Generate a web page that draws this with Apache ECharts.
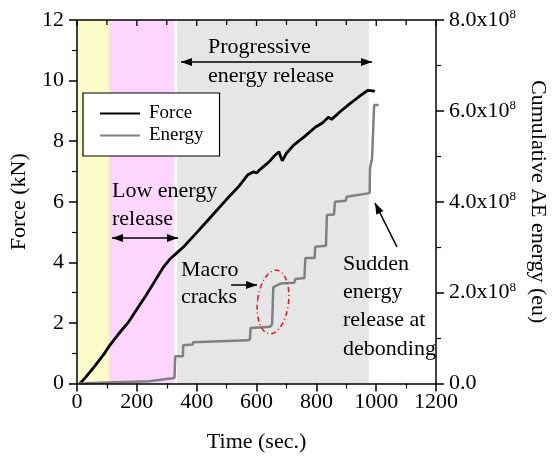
<!DOCTYPE html>
<html>
<head>
<meta charset="utf-8">
<script src="https://cdn.jsdelivr.net/npm/echarts@6/dist/echarts.min.js"></script>
<style>
  html, body { margin: 0; padding: 0; background: #fff; }
  #chart { width: 557px; height: 459px; }
</style>
</head>
<body>
<div id="chart"></div>
<script>
// 数据 (时间 s, 力 kN)
var forceTime = [10, 30, 60, 90, 110, 140, 170, 200, 230, 260, 290, 310, 330, 360, 400, 450, 500, 540, 570, 590, 600, 610, 640, 660, 675, 680, 686, 700, 724, 760, 796, 820, 840, 851, 880, 910, 940, 971, 977, 990, 995];
var forceKN = [0, 0.22, 0.58, 0.97, 1.27, 1.65, 2.0, 2.45, 2.9, 3.38, 3.86, 4.1, 4.28, 4.55, 4.98, 5.53, 6.08, 6.5, 6.88, 6.99, 6.95, 7.05, 7.3, 7.52, 7.65, 7.5, 7.35, 7.6, 7.87, 8.15, 8.46, 8.6, 8.79, 8.72, 8.98, 9.22, 9.45, 9.68, 9.72, 9.66, 9.63];

// 累计声发射能量 (单位 1e8 eu)
var energyTime = [10, 100, 240, 245, 326, 328, 354, 355, 387, 388, 570, 578, 580, 645, 652, 656, 662, 680, 726, 730, 760, 763, 794, 796, 832, 835, 859, 862, 898, 901, 978, 979, 984, 986, 991, 993, 1008];
var energyE8 = [0, 0.02, 0.05, 0.09, 0.12, 0.6, 0.6, 0.84, 0.86, 0.91, 0.95, 0.97, 1.22, 1.25, 1.3, 2.12, 2.16, 2.2, 2.22, 2.3, 2.32, 2.76, 2.76, 3.01, 3.03, 3.71, 3.72, 4.0, 4.02, 4.11, 4.19, 4.74, 4.76, 4.96, 4.98, 6.13, 6.13];

// 阶段分界 (s)
var phaseBounds = [[0, 107], [107, 325], [334, 975]];
var phaseColors = ['#fbfbc9', '#fdd5fd', '#e6e6e6'];

// 顶部镜像刻度 (s)
var topTicks = [0, 100, 200, 300, 400, 500, 600, 700, 800, 900, 1000, 1100, 1200];

var serif = 'Liberation Serif';

var myChart = echarts.init(document.getElementById('chart'));

function zip(a, b) {
    return a.map(function (v, i) { return [v, b[i]]; });
}

// 箭头头部
function head(x1, y1, x2, y2) {
    var ang = Math.atan2(y2 - y1, x2 - x1);
    var L = 11, W = 4;
    var bx = x2 - L * Math.cos(ang), by = y2 - L * Math.sin(ang);
    return {
        type: 'polygon', z: 100,
        shape: { points: [[x2, y2],
            [bx + W * Math.sin(ang), by - W * Math.cos(ang)],
            [bx - W * Math.sin(ang), by + W * Math.cos(ang)]] },
        style: { fill: '#000' }
    };
}
function arrow(x1, y1, x2, y2, both) {
    var els = [{
        type: 'line', z: 100,
        shape: { x1: x1, y1: y1, x2: x2, y2: y2 },
        style: { stroke: '#000', lineWidth: 1.5 }
    }, head(x1, y1, x2, y2)];
    if (both) els.push(head(x2, y2, x1, y1));
    return els;
}
function txt(x, y, s) {
    return {
        type: 'text', x: x, y: y, z: 100,
        style: { text: s, fontFamily: serif, fontSize: 22, fill: '#000', verticalAlign: 'middle' }
    };
}

var graphics = [].concat(
    txt(208, 47, 'Progressive'),
    txt(208, 76, 'energy release'),
    arrow(181, 62, 372, 62, true),
    txt(112, 191, 'Low energy'),
    txt(112, 219, 'release'),
    arrow(112, 238, 178, 238, true),
    txt(181, 270, 'Macro'),
    txt(181, 297, 'cracks'),
    arrow(231, 285, 257, 285),
    txt(343, 264, 'Sudden'),
    txt(343, 292, 'energy'),
    txt(343, 320, 'release at'),
    txt(343, 349, 'debonding'),
    arrow(397, 247, 375, 203),
    [{
        type: 'ellipse', z: 100,
        x: 273, y: 302,
        rotation: -0.12,
        shape: { cx: 0, cy: 0, rx: 15.5, ry: 32 },
        style: { fill: 'none', stroke: '#e8141b', lineWidth: 1.5, lineDash: [5, 3, 1, 3] }
    }]
);

var numRich = { n: { fontFamily: serif, fontSize: 22, color: '#000' },
                s: { fontFamily: serif, fontSize: 13, color: '#000', padding: [0, 0, 11, 0] } };
function plainLabel(v) { return '{n|' + v + '}'; }

var option = {
    animation: false,
    textStyle: { fontFamily: serif },
    grid: { left: 77, right: 116, top: 20, bottom: 75.5 },
    legend: {
        orient: 'vertical',
        left: 83, top: 93,
        padding: [11, 16, 11, 16],
        itemGap: 3,
        itemWidth: 40,
        itemHeight: 19,
        borderColor: '#000',
        borderWidth: 1.2,
        backgroundColor: '#fff',
        itemStyle: { opacity: 0 },
        textStyle: { fontFamily: serif, fontSize: 19, color: '#000', padding: [0, 0, 0, 4] },
        data: ['Force', 'Energy'],
        z: 50
    },
    xAxis: {
        type: 'value', min: 0, max: 1200, interval: 200, z: 20,
        name: 'Time (sec.)', nameLocation: 'middle', nameGap: 48,
        nameTextStyle: { fontSize: 22, color: '#000', fontFamily: serif },
        axisLine: { lineStyle: { color: '#000', width: 1.5 } },
        axisTick: { length: 8, lineStyle: { color: '#000', width: 1.5 } },
        minorTick: { show: true, splitNumber: 2, length: 5, lineStyle: { color: '#000', width: 1.2 } },
        axisLabel: { margin: 8, formatter: plainLabel, rich: numRich },
        splitLine: { show: false }
    },
    yAxis: [{
        type: 'value', min: 0, max: 12, interval: 2, z: 20,
        name: 'Force (kN)', nameLocation: 'middle', nameGap: 47,
        nameTextStyle: { fontSize: 22, color: '#000', fontFamily: serif },
        axisLine: { show: true, lineStyle: { color: '#000', width: 1.5 } },
        axisTick: { show: true, inside: false, length: 8, lineStyle: { color: '#000', width: 1.5 } },
        minorTick: { show: true, splitNumber: 2, length: 5, lineStyle: { color: '#000', width: 1.2 } },
        axisLabel: { margin: 13, formatter: plainLabel, rich: numRich },
        splitLine: { show: false }
    }, {
        type: 'value', min: 0, max: 8, interval: 2, position: 'right', z: 20,
        name: 'Cumulative AE energy (eu)', nameLocation: 'middle', nameGap: 88, nameRotate: -90,
        nameTextStyle: { fontSize: 22, color: '#000', fontFamily: serif },
        axisLine: { show: true, lineStyle: { color: '#000', width: 1.5 } },
        axisTick: { show: true, inside: false, length: 8, lineStyle: { color: '#000', width: 1.5 } },
        minorTick: { show: true, splitNumber: 2, length: 5, lineStyle: { color: '#000', width: 1.2 } },
        axisLabel: {
            margin: 13, rich: numRich,
            formatter: function (v) {
                return v === 0 ? '{n|0.0}' : '{n|' + v.toFixed(1) + 'x10}{s|8}';
            }
        },
        splitLine: { show: false }
    }],
    series: [{
        name: 'Force',
        type: 'line',
        symbol: 'none',
        data: zip(forceTime, forceKN),
        lineStyle: { color: '#000', width: 2.8 },
        itemStyle: { color: '#000' },
        z: 3,
        markArea: {
            silent: true,
            data: phaseBounds.map(function (b, i) {
                return [{ xAxis: b[0], itemStyle: { color: phaseColors[i] } }, { xAxis: b[1] }];
            })
        }
    }, {
        name: 'Energy',
        type: 'line',
        yAxisIndex: 1,
        symbol: 'none',
        data: zip(energyTime, energyE8),
        lineStyle: { color: '#808080', width: 2.5 },
        itemStyle: { color: '#808080' },
        z: 4
    }],
    graphic: graphics
};

myChart.setOption(option);

// 顶部边框与朝内刻度, 位置由坐标轴换算
var p0 = myChart.convertToPixel({ xAxisIndex: 0, yAxisIndex: 0 }, [0, 12]);
var p1 = myChart.convertToPixel({ xAxisIndex: 0, yAxisIndex: 0 }, [1200, 12]);
var frame = [{
    type: 'line', z: 100,
    shape: { x1: p0[0], y1: p0[1], x2: p1[0], y2: p1[1] },
    style: { stroke: '#000', lineWidth: 1.5 }
}];
topTicks.forEach(function (t) {
    var p = myChart.convertToPixel({ xAxisIndex: 0, yAxisIndex: 0 }, [t, 12]);
    frame.push({
        type: 'line', z: 100,
        shape: { x1: p[0], y1: p[1], x2: p[0], y2: p[1] + (t % 200 === 0 ? 6 : 5) },
        style: { stroke: '#000', lineWidth: 1.3 }
    });
});
myChart.setOption({ graphic: graphics.concat(frame) });
</script>
</body>
</html>
